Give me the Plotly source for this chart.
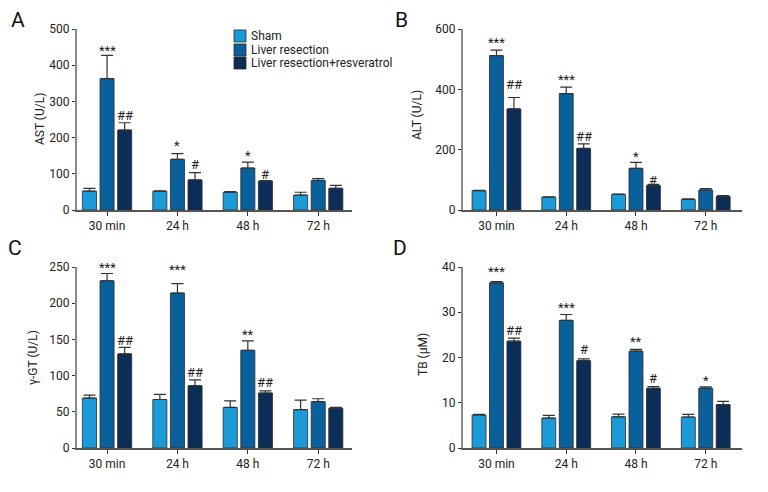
import plotly.graph_objects as go

categories = ["30 min", "24 h", "48 h", "72 h"]
groups = ["Sham", "Liver resection", "Liver resection+resveratrol"]
colors = ["#1a9bd7", "#0a609b", "#0b2d57"]

# AST
ast_vals = [[52, 52, 49, 41], [363, 140, 116, 82], [221, 83, 80, 60]]
ast_err = [[8, 1, 2, 8], [64, 16, 16, 5], [20, 20, 1, 8]]
# ALT
alt_vals = [[64, 43, 52, 35], [512, 386, 138, 66], [335, 204, 81, 45]]
alt_err = [[1, 1, 1, 2], [18, 21, 20, 5], [38, 15, 4, 3]]
# gamma-GT
ggt_vals = [[69, 67, 56, 53], [231, 214, 135, 64], [130, 86, 76, 55]]
ggt_err = [[4, 7, 9, 13], [10, 13, 13, 4], [9, 8, 3, 1]]
# TB
tb_vals = [[7.3, 6.6, 6.9, 6.85], [36.5, 28.2, 21.4, 13.2], [23.6, 19.3, 13.2, 9.6]]
tb_err = [[0.15, 0.6, 0.6, 0.6], [0.3, 1.3, 0.4, 0.3], [0.7, 0.4, 0.35, 0.7]]

# significance labels: (category index, group index, text, y position)
ast_sig = [(0, 1, "***", 442), (0, 2, "##", 262), (1, 1, "*", 177), (1, 2, "#", 127), (2, 1, "*", 150), (2, 2, "#", 99)]
alt_sig = [(0, 1, "***", 555), (0, 2, "##", 417), (1, 1, "***", 433), (1, 2, "##", 243), (2, 1, "*", 179), (2, 2, "#", 99)]
ggt_sig = [(0, 1, "***", 250), (0, 2, "##", 149), (1, 1, "***", 247), (1, 2, "##", 104.5), (2, 1, "**", 156.5), (2, 2, "##", 90.7)]
tb_sig = [(0, 1, "***", 39), (0, 2, "##", 25.9), (1, 1, "***", 31.1), (1, 2, "#", 21.7), (2, 1, "**", 23.5), (2, 2, "#", 15.4), (3, 1, "*", 15.0)]

FONT = "Liberation Sans Narrow, Roboto, sans-serif"
TXT = "#222222"

# page has an 8px body margin: figure is drawn 8px right/down of the window origin
OFF = 8
W, H = 760, 484


def sx(px):
    return (px - OFF) / W


def sy(py):
    return 1 - (py - OFF) / H


panels = [
    dict(letter="A", lpos=(18, 20), vals=ast_vals, err=ast_err, sig=ast_sig, title="AST (U/L)", tpos=(40, 119),
         rng=[0, 500], dt=100, xa="x", ya="y", xdom=(77, 352), ydom=(29, 210), xr=[-0.427, 3.48]),
    dict(letter="B", lpos=(402, 20), vals=alt_vals, err=alt_err, sig=alt_sig, title="ALT (U/L)", tpos=(417, 115),
         rng=[0, 600], dt=200, xa="x2", ya="y2", xdom=(463, 742), ydom=(29, 210), xr=[-0.48, 3.52]),
    dict(letter="C", lpos=(15, 248), vals=ggt_vals, err=ggt_err, sig=ggt_sig, title="γ-GT (U/L)", tpos=(33, 358),
         rng=[0, 250], dt=50, xa="x3", ya="y3", xdom=(77, 352), ydom=(267, 448), xr=[-0.427, 3.48]),
    dict(letter="D", lpos=(400, 248), vals=tb_vals, err=tb_err, sig=tb_sig, title="TB (μM)", tpos=(423, 355),
         rng=[0, 40], dt=10, xa="x4", ya="y4", xdom=(463, 742), ydom=(267, 448), xr=[-0.48, 3.52]),
]

fig = go.Figure()
annotations = []
shapes = []
layout = {}
offsets = [-0.25, 0.0, 0.25]

for pi, p in enumerate(panels):
    for gi in range(3):
        fig.add_trace(go.Bar(
            x=categories, y=p["vals"][gi], name=groups[gi],
            marker=dict(color=colors[gi], line=dict(color="#2a2a2a", width=0.8)),
            error_y=dict(type="data", array=p["err"][gi], symmetric=False, arrayminus=[0] * 4,
                         color="#333333", thickness=1.2, width=6),
            xaxis=p["xa"], yaxis=p["ya"], showlegend=False,
        ))
    xkey = "xaxis" if pi == 0 else f"xaxis{pi + 1}"
    ykey = "yaxis" if pi == 0 else f"yaxis{pi + 1}"
    layout[xkey] = dict(domain=[sx(p["xdom"][0]), sx(p["xdom"][1])], anchor=p["ya"], type="category",
                        range=p["xr"], showline=True, linecolor="#555555", linewidth=1.5,
                        ticks="outside", ticklen=4, tickcolor="#333333", tickwidth=1,
                        showgrid=False, zeroline=False, automargin=False,
                        tickfont=dict(family=FONT, size=12, color=TXT))
    layout[ykey] = dict(domain=[sy(p["ydom"][1]), sy(p["ydom"][0])], anchor=p["xa"], range=p["rng"],
                        dtick=p["dt"], showline=True, linecolor="#8a8a8a", linewidth=2,
                        ticks="outside", ticklen=3, tickcolor="#333333", tickwidth=1,
                        showgrid=False, zeroline=False, automargin=False,
                        tickfont=dict(family=FONT, size=12, color=TXT))
    # y-axis title
    annotations.append(dict(x=sx(p["tpos"][0]), y=sy(p["tpos"][1]), xref="paper", yref="paper",
                            text=p["title"], textangle=-90, showarrow=False,
                            xanchor="center", yanchor="middle",
                            font=dict(family=FONT, size=12, color=TXT)))
    for (ci, gi, txt, yv) in p["sig"]:
        annotations.append(dict(x=ci + offsets[gi], y=yv, xref=p["xa"], yref=p["ya"], text=txt,
                                showarrow=False, yanchor="middle",
                                font=dict(family=FONT, size=13, color=TXT)))
    annotations.append(dict(x=sx(p["lpos"][0]), y=sy(p["lpos"][1]), xref="paper", yref="paper",
                            text=p["letter"], showarrow=False, xanchor="center", yanchor="middle",
                            font=dict(family=FONT, size=21, color="#111111")))

# legend (drawn compactly like the original)
leg_rows = [36, 50, 63]
for gi, g in enumerate(groups):
    yc = leg_rows[gi]
    shapes.append(dict(type="rect", xref="paper", yref="paper",
                       x0=sx(234), x1=sx(246), y0=sy(yc + 6), y1=sy(yc - 6),
                       fillcolor=colors[gi], line=dict(color="#2a2a2a", width=0.8)))
    annotations.append(dict(x=sx(249), y=sy(yc), xref="paper", yref="paper", text=g, showarrow=False,
                            xanchor="left", yanchor="middle", font=dict(family=FONT, size=12, color=TXT)))

fig.update_layout(
    width=W, height=H, margin=dict(l=0, r=0, t=0, b=0),
    paper_bgcolor="white", plot_bgcolor="white",
    barmode="group", bargap=0.25, bargroupgap=0.2,
    annotations=annotations, shapes=shapes, showlegend=False,
    **layout,
)

fig.write_html("out.html")
